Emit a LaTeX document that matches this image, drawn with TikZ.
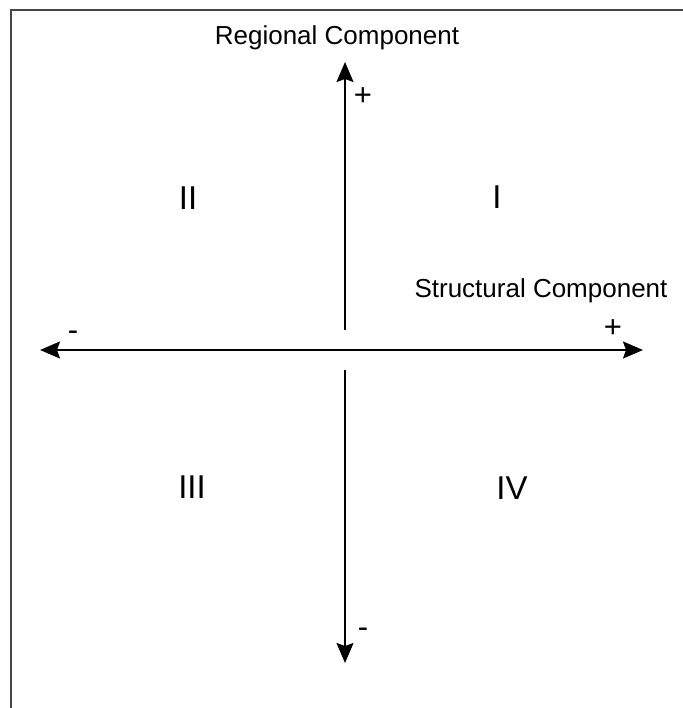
\documentclass[tikz,border=0pt]{standalone}
\usepackage{fontspec}
\setmainfont{Liberation Sans}
\usetikzlibrary{arrows.meta}
\begin{document}
\begin{tikzpicture}[x=1pt,y=-1pt,
  frame/.style={draw={rgb,255:red,70;green,70;blue,70},line width=2.4pt},
  axis/.style={draw=black,line width=1.7pt,-{Stealth[length=20pt,width=17pt,inset=3pt]}},
  label/.style={inner sep=0pt,anchor=base,font=\fontsize{26}{30}\selectfont},
  quad/.style={inner sep=0pt,anchor=base,font=\fontsize{33}{38}\selectfont},
  sign/.style={inner sep=0pt,anchor=center,font=\fontsize{31}{36}\selectfont}]
\useasboundingbox (0,0) rectangle (682,708);
\fill[white] (0,0) rectangle (682,708);
\draw[frame] (11,709) -- (11,10) -- (683,10);
% axis points
\coordinate (vtop) at (345,62);
\coordinate (vup) at (345,330);
\coordinate (vdn) at (345,370);
\coordinate (vbot) at (345,663);
\coordinate (hmid) at (345,350);
\coordinate (hleft) at (40,350);
\coordinate (hright) at (643,350);
\draw[axis] (vup) -- (vtop);
\draw[axis] (vdn) -- (vbot);
\draw[axis] (hmid) -- (hleft);
\draw[axis] (hmid) -- (hright);
% labels
\node[label] (reg) at (337,45) {Regional Component};
\node[label] (str) at (541,297) {Structural Component};
\node[quad] (q2) at (188,210) {II};
\node[quad] (q1) at (497,209) {I};
\node[quad] (q3) at (192,498) {III};
\node[quad] (q4) at (512,499) {IV};
\node[sign] (ptop) at (363,97) {+};
\node[sign] (pright) at (613,329) {+};
\node[sign] (mleft) at (73,336) {-};
\node[sign] (mbot) at (363,633) {-};
\end{tikzpicture}
\end{document}
